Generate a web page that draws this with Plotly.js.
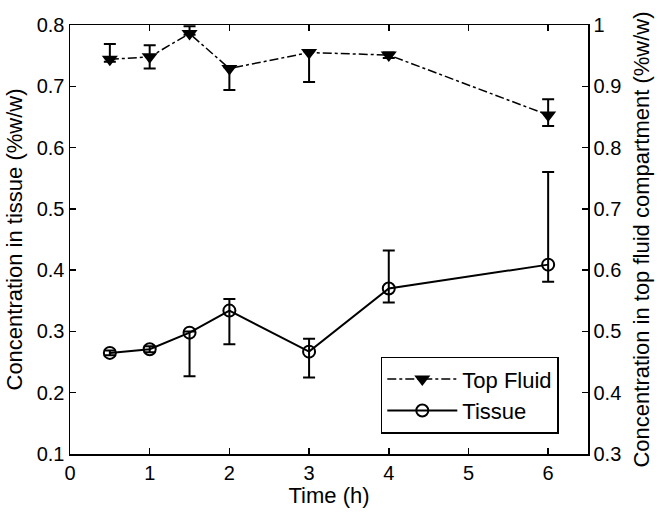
<!DOCTYPE html>
<html>
<head>
<meta charset="utf-8">
<script src="https://cdn.plot.ly/plotly-3.0.1.min.js"></script>
<style>html,body{margin:0;padding:0;background:#fff;}#chart{width:662px;height:517px;}</style>
</head>
<body>
<div id="chart"></div>
<script>
// Time points (h)
const time = [0.5, 1, 1.5, 2, 3, 4, 6];

// Tissue concentration (%w/w), left axis
const tissue = [0.265, 0.271, 0.298, 0.334, 0.267, 0.370, 0.409];
const tissueUpper = [0.269, 0.276, 0.300, 0.353, 0.288, 0.432, 0.560];
const tissueLower = [0.261, 0.266, 0.227, 0.279, 0.225, 0.347, 0.381];

// Top fluid compartment concentration (%w/w), right axis
const topFluid = [0.944, 0.948, 0.986, 0.929, 0.955, 0.951, 0.853];
const topUpper = [0.969, 0.967, 0.998, 0.931, 0.957, 0.955, 0.879];
const topLower = [0.940, 0.929, 0.984, 0.894, 0.907, 0.946, 0.835];

const plus = (v, u) => v.map((d, i) => Math.max(u[i] - d, 0));
const minus = (v, l) => v.map((d, i) => Math.max(d - l[i], 0));

const FONT = 'Liberation Sans, Arial, Helvetica, sans-serif';

const traces = [
  {
    x: time, y: topFluid, name: 'Top Fluid', yaxis: 'y2',
    type: 'scatter', mode: 'lines+markers',
    line: {color: '#000', width: 1.5, dash: 'dashdot'},
    marker: {symbol: 'triangle-down', size: 14, color: '#000'},
    error_y: {type: 'data', symmetric: false, array: plus(topFluid, topUpper),
              arrayminus: minus(topFluid, topLower), color: '#000', thickness: 2, width: 6}
  },
  {
    x: time, y: tissue, name: 'Tissue', yaxis: 'y',
    type: 'scatter', mode: 'lines+markers',
    line: {color: '#000', width: 2},
    marker: {symbol: 'circle-open', size: 12, color: '#000', line: {width: 2, color: '#000'}},
    error_y: {type: 'data', symmetric: false, array: plus(tissue, tissueUpper),
              arrayminus: minus(tissue, tissueLower), color: '#000', thickness: 2, width: 6}
  }
];

const layout = {
  width: 662, height: 517,
  margin: {l: 70, r: 74, t: 25, b: 63},
  paper_bgcolor: '#fff', plot_bgcolor: '#fff',
  font: {family: FONT, size: 20, color: '#000'},
  showlegend: true,
  legend: {
    x: 0.6, y: 0.227, xanchor: 'left', yanchor: 'top',
    bordercolor: '#000', borderwidth: 1.5, bgcolor: '#fff',
    font: {family: FONT, size: 22, color: '#000'},
    itemwidth: 70,
    traceorder: 'normal', tracegroupgap: 0
  },
  xaxis: {
    range: [0, 6.5], dtick: 1, tick0: 0,
    showline: true, linecolor: '#000', linewidth: 1.5, mirror: 'ticks',
    ticks: 'inside', ticklen: 6, tickwidth: 1.5, tickcolor: '#000',
    tickfont: {family: FONT, size: 20},
    showgrid: false, zeroline: false,
    title: {text: 'Time (h)', font: {family: FONT, size: 22}, standoff: 4}
  },
  yaxis: {
    range: [0.1, 0.8], dtick: 0.1, tick0: 0.1,
    showline: true, linecolor: '#000', linewidth: 1.5,
    ticks: 'inside', ticklen: 6, tickwidth: 1.5, tickcolor: '#000',
    tickfont: {family: FONT, size: 20},
    showgrid: false, zeroline: false,
    title: {text: 'Concentration in tissue (%w/w)', font: {family: FONT, size: 22}, standoff: 8}
  },
  yaxis2: {
    range: [0.3, 1.0], dtick: 0.1, tick0: 0.3,
    overlaying: 'y', side: 'right',
    showline: true, linecolor: '#000', linewidth: 1.5,
    ticks: 'inside', ticklen: 6, tickwidth: 1.5, tickcolor: '#000',
    tickfont: {family: FONT, size: 20},
    showgrid: false, zeroline: false,
    title: {text: 'Concentration in top fluid compartment (%w/w)', font: {family: FONT, size: 22}, standoff: 13}
  }
};

Plotly.newPlot('chart', traces, layout, {displayModeBar: false, staticPlot: true});
</script>
</body>
</html>
